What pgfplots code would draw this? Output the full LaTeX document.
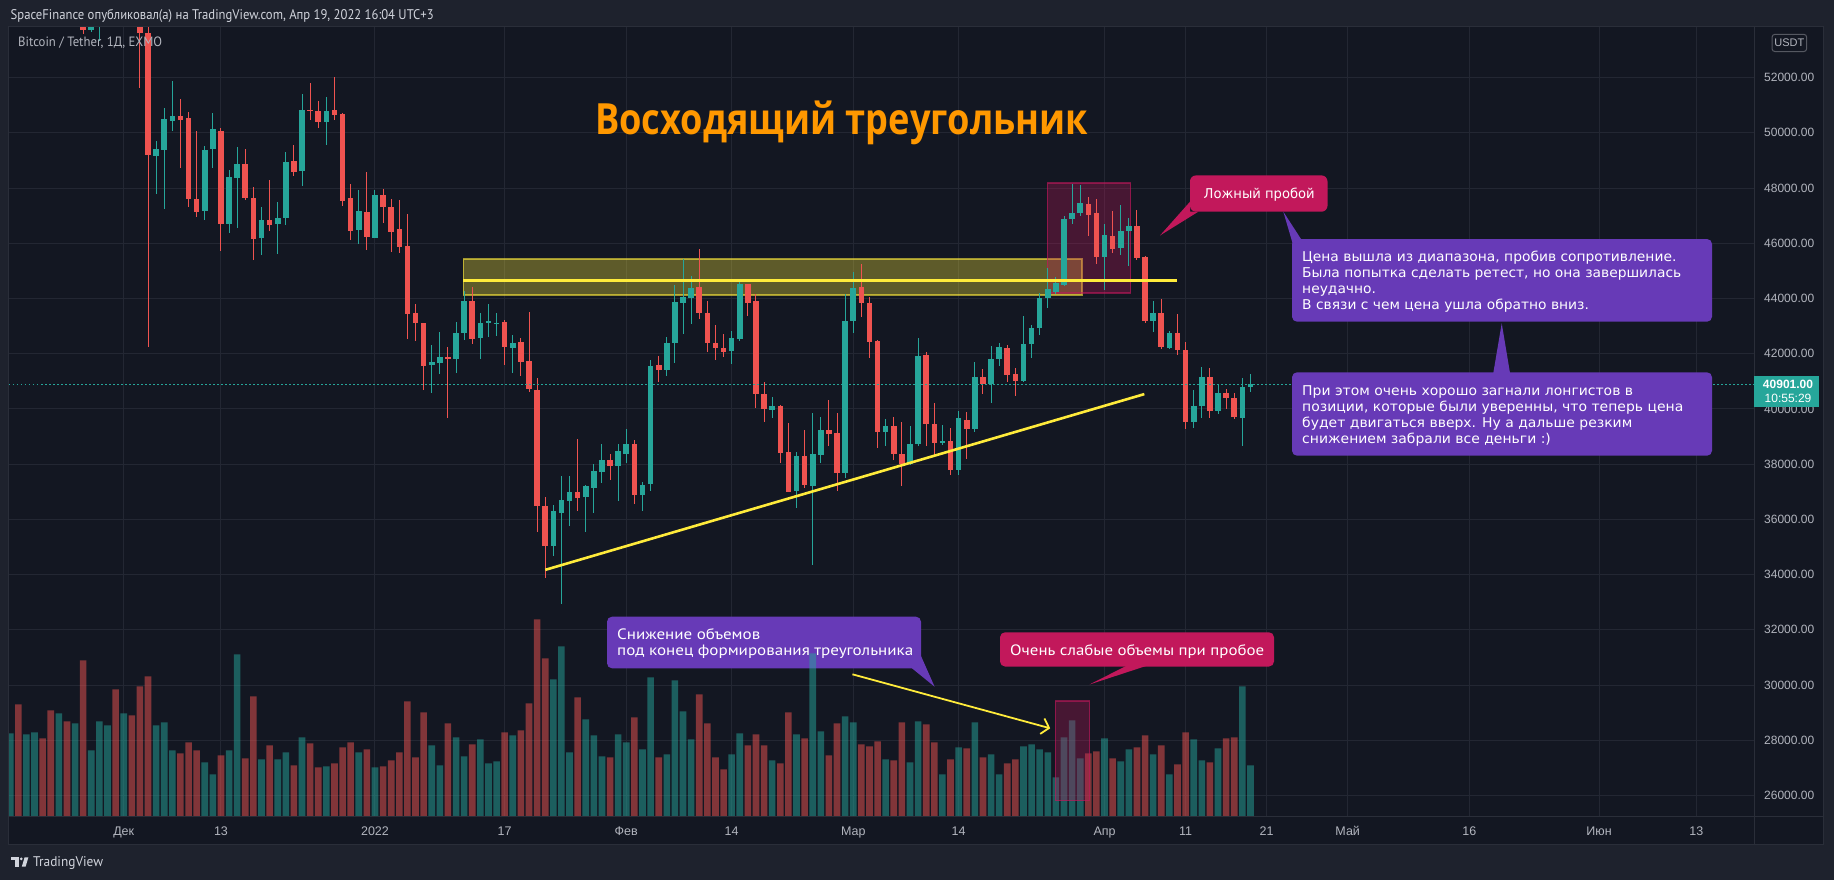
\documentclass[border=0pt]{standalone}
\usepackage{fontspec}
\setmainfont{Liberation Sans}
\newfontfamily\dvs{DejaVu Sans}
\newfontfamily\pts{PT Sans}
\newfontfamily\osans{Open Sans}
\usepackage{graphicx}
\usepackage{pgfplots}
\usepackage{pgfplotstable}
\pgfplotsset{compat=1.18}
\usetikzlibrary{arrows.meta}

\definecolor{pagebg}{HTML}{1E222D}
\definecolor{chartbg}{HTML}{131722}
\definecolor{border}{HTML}{2A2E39}
\definecolor{gridc}{HTML}{232733}
\definecolor{lbl}{HTML}{B2B5BE}
\definecolor{hdr}{HTML}{D1D4DC}
\definecolor{upc}{HTML}{26A69A}
\definecolor{dnc}{HTML}{EF5350}
\definecolor{purp}{HTML}{673AB7}
\definecolor{crim}{HTML}{C2185B}
\definecolor{orng}{HTML}{FF9800}
\definecolor{yel}{HTML}{FFEB3B}

% day index: 0 = 1 Dec 2021
\pgfplotstableread{
d o h l c
-14 60058 60840 58373 60345
-12 56892 58367 55600 58052
-11 58052 59845 57353 59707
-8 56247 57875 55317 57541
-6 57138 59399 57000 58960
-4 53723 55280 53660 54721
-3 54721 57445 53320 57274
-2 57274 58865 56666 57776
0 56950 59053 56458 57184
4 49165 49700 47775 49410
5 49370 50910 47230 50500
6 50430 51890 50060 50600
10 47160 49510 46830 49370
11 49410 50730 48720 50130
13 46700 48650 46370 48390
14 48370 49480 46550 48860
17 46190 47320 45570 46830
19 46700 47490 45620 46900
20 46900 49300 46670 48930
22 48620 51400 48060 50810
25 50400 51290 49560 50790
29 46480 47920 45960 47160
31 46190 47920 46190 47750
38 41590 42310 40560 41700
39 41670 42770 41260 41870
41 41820 43140 41300 42750
42 42750 44280 42500 43900
44 42580 43470 41820 43100
45 43100 43790 42610 43170
46 43100 43470 42650 43120
48 42210 42660 41290 42380
53 35040 36520 34690 36300
54 36230 37580 32950 36700
55 36670 37560 35770 36980
57 36820 37250 35560 37200
58 37140 38020 36220 37740
59 37710 38720 37330 38160
61 37930 38720 36650 38470
62 38370 39270 38030 38720
64 36880 37360 36310 37260
65 37280 41770 37030 41570
67 41410 42620 41200 42380
68 42380 44480 41660 43860
69 43840 45440 42720 44040
70 44030 44800 43090 44370
75 42100 42810 41630 42570
76 42540 44720 42470 44530
80 39970 40450 39670 40110
83 37030 38440 36420 38300
85 37200 39840 34350 38360
86 38340 39700 38040 39230
89 37690 44150 37510 43170
90 43180 44950 42760 44390
94 39170 39620 38660 39390
97 38020 39370 37960 38740
98 38740 42570 38670 41930
101 38770 39410 38700 38850
103 37790 39910 37590 39660
105 39280 41690 39150 41150
107 40920 42290 40200 41800
108 41800 42380 41560 42240
111 41010 43360 40960 42350
112 42350 43030 41860 42920
113 42920 44200 42680 44010
114 44010 45100 43670 44330
115 44240 44780 44160 44560
116 44490 46980 44460 46870
117 46870 48150 46710 47100
118 47100 48100 47000 47450
121 45510 46700 44300 46290
123 45820 47380 45580 46450
124 46430 46900 45180 46620
127 43180 43900 42780 43470
129 42210 42810 42180 42760
132 39530 40680 39310 40090
133 40110 41530 39660 41150
135 39920 40870 39830 40560
138 39680 41110 38640 40810
139 40800 41260 40620 40901
}\upcandles

\pgfplotstableread{
d o h l c
-13 60345 60976 56474 56892
-10 59707 60037 58486 58622
-9 58622 59266 55610 56247
-7 57541 57731 55837 57138
-5 58960 59180 53590 53726
-1 57776 59176 55875 56950
1 57184 57375 55777 56480
2 56484 57600 51620 53602
3 53601 53870 42250 49200
7 50600 51220 48730 50470
8 50530 50770 47310 47600
9 47600 50050 46940 47135
12 50050 50190 45710 46700
15 48860 49430 47570 47650
16 47640 48030 45390 46170
18 46830 48280 46440 46670
21 48970 49550 48430 48590
23 50840 51800 50460 50790
24 50790 51140 50170 50400
26 50810 52010 50460 50650
27 50690 50720 47340 47530
28 47640 48140 46110 46440
30 47120 48580 45760 46220
32 47750 47970 46720 47310
33 47310 47600 45690 46410
34 46500 47560 45650 45870
35 45900 47050 42540 43440
36 43470 43790 42470 43100
37 43100 43130 40690 41560
40 41870 42250 39680 41820
43 43900 44410 42350 42540
47 43140 43210 41590 42250
49 42420 42580 41190 41710
50 41720 43510 40620 40730
51 40670 41120 35530 36490
52 36470 36800 33870 35040
56 36980 38900 36310 36780
60 38160 38360 37430 37930
63 38720 38860 36560 36880
66 41580 41910 40990 41410
71 44410 45780 43240 43480
72 43490 43900 42050 42390
73 42400 43030 41780 42200
74 42200 42730 41880 42060
77 44530 44530 43370 43850
78 43900 44170 40030 40550
79 40540 40970 39530 40010
81 40100 40130 38040 38410
82 38440 39490 36980 36990
84 38300 39230 37140 37260
87 39230 40330 38650 39080
88 39120 39850 37030 37690
91 44430 45240 43340 43850
92 43850 44040 41860 42430
93 42460 42510 38590 39170
95 39390 39700 38150 38370
96 38380 39510 37200 38020
99 41970 42050 38640 39460
100 39450 40210 38260 38770
102 38850 39300 37590 37800
104 39610 39880 38190 39280
106 41150 41430 40550 40920
109 42200 42310 40990 41230
110 41260 41500 40470 41010
119 47420 47690 46260 47010
120 47100 47600 45250 45510
122 46260 47160 45650 45780
125 46620 47210 45400 45470
126 45520 45540 43130 43180
128 43470 43970 42170 42250
130 42760 43430 41940 42150
131 42150 42420 39280 39530
134 41150 41490 39660 39920
136 40560 40710 40000 40400
137 40390 40590 39620 39690
}\downcandles

% volume in relative units (height of bar in px of the picture)
\pgfplotstableread{
d v
-14 82.7
-12 81.7
-11 83.7
-8 102.7
-6 92.7
-4 65.7
-3 94.7
-2 90.7
0 102.7
4 90.7
5 93.7
6 65.7
10 53.7
11 41.7
13 65.7
14 161.7
17 56.7
19 56.7
20 63.7
22 78.7
25 49.7
29 63.7
31 48.7
38 70.7
39 50.7
41 78.7
42 59.7
44 76.7
45 52.7
46 54.7
48 80.7
53 136.7
54 169.7
55 63.7
57 96.7
58 80.7
59 59.7
61 81.7
62 73.7
64 66.7
65 138.7
67 61.7
68 135.7
69 104.7
70 76.7
75 61.7
76 82.7
80 55.7
83 81.7
85 162.7
86 84.7
89 99.7
90 93.7
94 56.7
97 53.7
98 94.7
101 41.7
103 68.7
105 93.7
107 61.7
108 41.7
111 69.7
112 71.7
113 66.7
114 63.7
115 38.7
116 78.7
117 95.7
118 57.7
121 77.7
123 54.7
124 66.7
127 61.7
129 41.7
132 76.7
133 55.7
135 67.7
138 129.7
139 50.7
}\volupt

\pgfplotstableread{
d v
-13 111.7
-10 77.7
-9 105.7
-7 94.7
-5 155.7
-1 126.7
1 100.7
2 129.7
3 139.7
7 62.7
8 73.7
9 65.7
12 60.7
15 57.7
16 119.7
18 70.7
21 50.7
23 72.7
24 48.7
26 52.7
27 68.7
28 73.7
30 66.7
32 49.7
33 55.7
34 63.7
35 114.7
36 58.7
37 103.7
40 92.7
43 71.7
47 83.7
49 85.7
50 112.7
51 196.7
52 157.7
56 118.7
60 58.7
63 98.7
66 58.7
71 121.7
72 92.7
73 58.7
74 46.7
77 70.7
78 81.7
79 70.7
81 52.7
82 103.7
84 77.7
87 60.7
88 92.7
91 71.7
92 69.7
93 74.7
95 55.7
96 93.7
99 91.7
100 73.7
102 56.7
104 67.7
106 58.7
109 52.7
110 56.7
119 62.7
120 64.7
122 57.7
125 68.7
126 80.7
128 70.7
130 51.7
131 83.7
134 53.7
136 77.7
137 78.7
}\voldnt

\pgfplotsset{
  tvaxis/.style={at={(9pt,-816pt)}, anchor=south west,
    width=1745pt, height=789pt, scale only axis,
    xmin=-14.15, xmax=201.12},
  wick/.style={draw=none, mark=none, forget plot,
    error bars/.cd, y dir=both, y explicit, error mark=none,
    error bar style={line width=1pt, draw=#1, solid}},
  body/.style={draw=none, mark=none, forget plot,
    error bars/.cd, y dir=both, y explicit, error mark=none,
    error bar style={line width=5.6pt, draw=#1, solid}},
}

\begin{document}
\begin{tikzpicture}
\begin{scope}[x=1pt,y=-1pt]
\fill[pagebg] (0,0) rectangle (1834,880);
\fill[chartbg] (8.5,27) rectangle (1823,844);
\end{scope}

% grid + ticks
\begin{axis}[tvaxis, ymin=25257, ymax=53833,
  axis line style={draw=none}, tick style={draw=none}, major tick length=0pt,
  grid=major, grid style={line width=1pt, draw=gridc},
  scaled y ticks=false,
  xtick={0,12,31,47,62,75,90,103,121,131,141,151,166,182,194},
  xticklabels={Дек,13,2022,17,Фев,14,Мар,14,Апр,11,21,Май,16,Июн,13},
  xticklabel style={anchor=base, yshift=-19.5pt, inner sep=0pt, text=lbl,
    font=\fontsize{12.5}{12.5}\selectfont},
  ytick={26000,28000,...,52000},
  yticklabel pos=right,
  yticklabel={\pgfmathprintnumber[fixed,fixed zerofill,precision=2,1000 sep={},assume math mode=true]{\tick}},
  yticklabel style={anchor=west, inner sep=0pt, xshift=10pt, text=lbl,
    font=\fontsize{12}{12}\selectfont},
]
\end{axis}

% callout 4 box lies under the semi-transparent volume bars
\begin{scope}[x=1pt,y=-1pt]
\fill[purp, rounded corners=5pt] (607,616.7) rectangle (921,668.3);
\fill[purp] (912,668.3) -- (934.6,686.7) -- (921,656) -- cycle;
\end{scope}

% volume
\begin{axis}[tvaxis, ymin=0, ymax=789, hide axis]
\addplot[ybar, bar width=6.6pt, bar shift=0pt, fill=upc, fill opacity=0.5, draw=none] table[x=d,y=v]{\volupt};
\addplot[ybar, bar width=6.6pt, bar shift=0pt, fill=dnc, fill opacity=0.5, draw=none] table[x=d,y=v]{\voldnt};
\filldraw[fill=crim, fill opacity=0.3, draw=crim, draw opacity=0.6, line width=1.5pt]
  (axis cs:114.93,15.3) rectangle (axis cs:119.16,115);
\draw[yel, line width=1.8pt, -{Straight Barb[length=7pt,width=16pt]}]
  (axis cs:89.9,141.7) -- (axis cs:114.3,87.7);
\end{axis}

% price
\begin{axis}[tvaxis, ymin=25257, ymax=53833, hide axis, clip marker paths=true]
\filldraw[fill=yel, fill opacity=0.32, draw=yel, draw opacity=0.6, line width=1.5pt]
  (axis cs:41.9,44130) rectangle (axis cs:118.2,45423);
\filldraw[fill=crim, fill opacity=0.3, draw=crim, draw opacity=0.6, line width=1.5pt]
  (axis cs:113.94,44199) rectangle (axis cs:124.23,48186);
\addplot[wick=upc] table[x=d, y expr={(\thisrow{h}+\thisrow{l})/2}, y error expr={(\thisrow{h}-\thisrow{l})/2}]{\upcandles};
\addplot[wick=dnc] table[x=d, y expr={(\thisrow{h}+\thisrow{l})/2}, y error expr={(\thisrow{h}-\thisrow{l})/2}]{\downcandles};
\addplot[body=upc] table[x=d, y expr={(\thisrow{o}+\thisrow{c})/2}, y error expr={max(abs(\thisrow{o}-\thisrow{c})/2,18)}]{\upcandles};
\addplot[body=dnc] table[x=d, y expr={(\thisrow{o}+\thisrow{c})/2}, y error expr={max(abs(\thisrow{o}-\thisrow{c})/2,18)}]{\downcandles};
\draw[yel, line width=3pt] (axis cs:41.9,44650) -- (axis cs:129.9,44650);
\draw[yel, line width=2.6pt] (axis cs:52.01,34172) -- (axis cs:125.91,40537);
\draw[upc, line width=1pt, dash pattern=on 1.5pt off 2.5pt] (axis cs:-14.15,40901) -- (axis cs:201.12,40901);
\end{axis}

\begin{scope}[x=1pt,y=-1pt]
% header and frame
\fill[pagebg] (0,0) rectangle (1834,26.5);
\fill[pagebg] (0,26.5) rectangle (8.5,880);
\draw[border, line width=1pt] (8.5,27) rectangle (1823,844);
\draw[border, line width=1pt] (1754,27) -- (1754,844);
\draw[border, line width=1pt] (8.5,816) -- (1823,816);
\node[anchor=base west, inner sep=0pt, text=hdr] at (10.5,19.5)
  {\resizebox{423pt}{\height}{\pts\fontsize{14}{14}\selectfont SpaceFinance опубликовал(а) на TradingView.com, Апр 19, 2022 16:04 UTC+3}};
\node[anchor=base west, inner sep=0pt, text=lbl] at (18,46.5)
  {\resizebox{144pt}{\height}{\pts\fontsize{13.5}{13.5}\selectfont Bitcoin / Tether, 1Д, EXMO}};
% price scale extras
\draw[border!80!white, line width=1pt, rounded corners=3pt] (1772,34.3) rectangle (1806.7,51.6);
\node[text=lbl, inner sep=0pt, font=\fontsize{11}{11}\selectfont] at (1789.3,43) {USDT};
\fill[upc] (1754,376) rectangle (1819,407);
\node[text=white, inner sep=0pt, font=\bfseries\fontsize{12}{12}\selectfont] at (1788,384.5) {40901.00};
\node[text=white, inner sep=0pt, font=\fontsize{12}{12}\selectfont] at (1788,398.5) {10:55:29};
% title
\node[anchor=base west, inner sep=0pt, text=orng] at (595,135)
  {\resizebox{493pt}{\height}{\osans\bfseries\fontsize{43}{43}\selectfont Восходящий треугольник}};
% callout: false breakout
\fill[crim, rounded corners=6pt] (1190,175.4) rectangle (1327.5,211.7);
\fill[crim] (1190,201.7) -- (1190,211.7) -- (1198.3,211.7) -- (1160,235.5) -- cycle;
\node[anchor=base west, inner sep=0pt, text=white] at (1203.5,199)
  {\resizebox{111pt}{\height}{\dvs\fontsize{13.5}{16}\selectfont Ложный пробой}};
% callout 2
\fill[purp] (1283.3,211.7) -- (1292.5,243) -- (1301,239) -- cycle;
\fill[purp, rounded corners=5pt] (1292,239) rectangle (1712,321.7);
\node[anchor=base west, inner sep=0pt, text=white] at (1302,261)
  {\resizebox{379pt}{\height}{\dvs\fontsize{13.5}{16}\selectfont\begin{tabular}[t]{@{}l@{}}Цена вышла из диапазона, пробив сопротивление.\\ Была попытка сделать ретест, но она завершилась\\ неудачно.\\ В связи с чем цена ушла обратно вниз.\end{tabular}}};
% callout 3
\fill[purp] (1501.7,323.3) -- (1493.3,373) -- (1510,373) -- cycle;
\fill[purp, rounded corners=5pt] (1292,372.3) rectangle (1712,455.7);
\node[anchor=base west, inner sep=0pt, text=white] at (1302,395)
  {\resizebox{381pt}{\height}{\dvs\fontsize{13.5}{16}\selectfont\begin{tabular}[t]{@{}l@{}}При этом очень хорошо загнали лонгистов в\\ позиции, которые были уверенны, что теперь цена\\ будет двигаться вверх. Ну а дальше резким\\ снижением забрали все деньги :)\end{tabular}}};
% callout 4 text
\node[anchor=base west, inner sep=0pt, text=white] at (617,639)
  {\resizebox{296pt}{\height}{\pts\fontsize{15}{16.3}\selectfont\begin{tabular}[t]{@{}l@{}}Снижение объемов\\ под конец формирования треугольника\end{tabular}}};
% callout 5
\fill[crim, rounded corners=5pt] (1000,632.3) rectangle (1274,666.5);
\fill[crim] (1126,666) -- (1146,666) -- (1089.5,684.5) -- cycle;
\node[anchor=base west, inner sep=0pt, text=white] at (1010,655)
  {\resizebox{254pt}{\height}{\pts\fontsize{15}{16}\selectfont Очень слабые объемы при пробое}};
% TradingView logo
\fill[hdr] (10.6,857.3) rectangle (19.4,860.2);
\fill[hdr] (14.7,857.3) rectangle (19.4,866.7);
\fill[hdr] (21.3,858.8) circle (1.5);
\fill[hdr] (24.6,857.3) -- (28.4,857.3) -- (25.6,866.7) -- (21.8,866.7) -- cycle;
\node[anchor=base west, inner sep=0pt, text=hdr] at (32.9,866.7)
  {\resizebox{70pt}{\height}{\pts\fontsize{14}{14}\selectfont TradingView}};
\end{scope}
\pgfresetboundingbox
\path[use as bounding box] (0,0) rectangle (1834pt,-880pt);
\end{tikzpicture}
\end{document}
